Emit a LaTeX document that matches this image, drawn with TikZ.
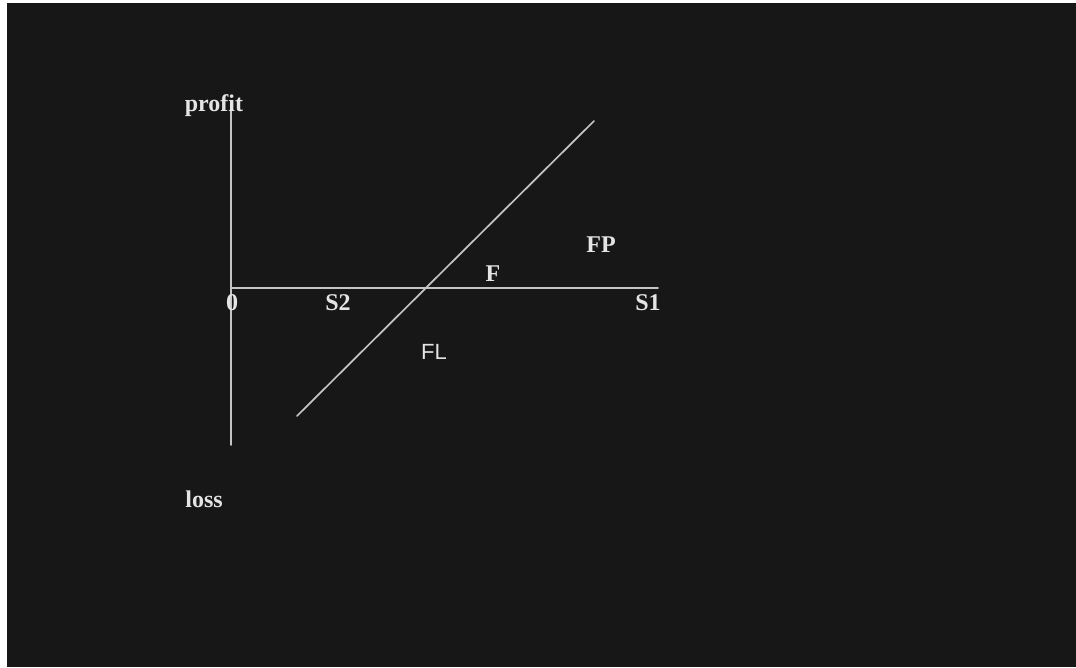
\documentclass[tikz,border=0pt]{standalone}
\usepackage{fontspec}
\setmainfont{Liberation Serif}
\newfontfamily\plainsans{Liberation Sans}
\definecolor{board}{HTML}{171717}
\definecolor{chalk}{HTML}{C4C4C4}
\definecolor{chalktext}{HTML}{E4E4E4}
\begin{document}
\begin{tikzpicture}[x=1pt,y=-1pt,line width=1.7pt,line cap=round,
  axisline/.style={draw=chalk},
  tag/.style={text=chalktext,inner sep=0pt,font=\bfseries\fontsize{24}{26}\selectfont},
  sanstag/.style={text=chalktext,inner sep=0pt,font=\plainsans\fontsize{22}{26}\selectfont}]
  \useasboundingbox (0,0) rectangle (1076,667);
  \fill[white] (0,0) rectangle (1076,667);
  \fill[board] (7,3) rectangle (1076,667);
  % axes and the payoff line
  \coordinate (origin) at (231,288);
  \coordinate (topend) at (231,104);
  \coordinate (bottomend) at (231,445);
  \coordinate (rightend) at (658,288);
  \coordinate (lowend) at (297,416);
  \coordinate (highend) at (594,121);
  \draw[axisline] (topend) -- (bottomend);
  \draw[axisline] (origin) -- (rightend);
  \draw[axisline] (lowend) -- (highend);
  % labels
  \node[tag] (profit) at (214,106) {profit};
  \node[tag] (loss) at (204,499) {loss};
  \node[tag] (zero) at (232,303) {0};
  \node[tag] (stwo) at (338,303) {S2};
  \node[tag] (sone) at (648,303) {S1};
  \node[tag] (fut) at (493,274) {F};
  \node[tag] (fp) at (601,245) {FP};
  \node[sanstag] (fl) at (434,352) {FL};
\end{tikzpicture}
\end{document}
